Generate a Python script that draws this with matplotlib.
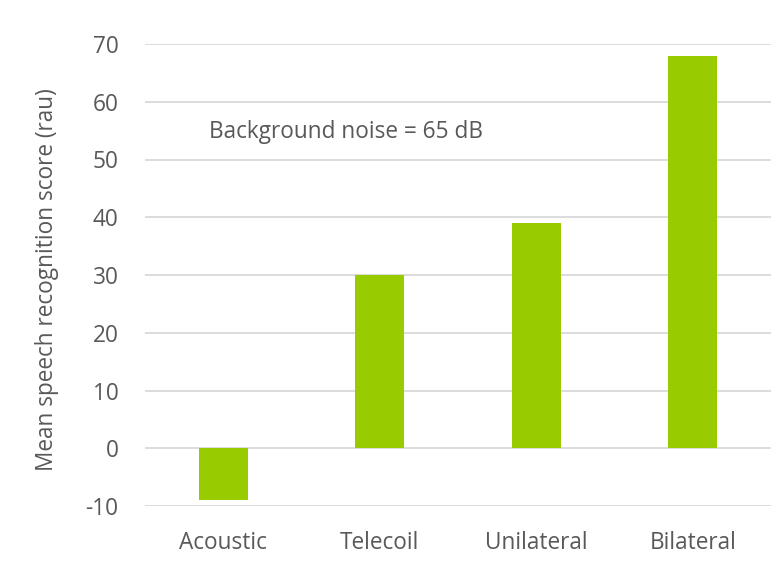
import matplotlib
matplotlib.use("Agg")
import matplotlib.pyplot as plt

categories = ["Acoustic", "Telecoil", "Unilateral", "Bilateral"]
scores = [-9, 30, 39, 68]
yticks = [-10, 0, 10, 20, 30, 40, 50, 60, 70]

plt.rcParams['font.family'] = ['Open Sans', 'DejaVu Sans']
txt = '#595959'
fs = 16.3

fig = plt.figure(figsize=(7.79, 5.63), dpi=100)
ax = fig.add_axes([145/779, 1-506/563, (771-145)/779, (506-44)/563])
x = list(range(len(categories)))
ax.bar(x, scores, width=0.31, color='#99CC00', zorder=3)
ax.set_xlim(-0.5, 3.5)
ax.set_ylim(-10, 70)
ax.set_yticks(yticks)
ax.set_yticklabels([str(t) for t in yticks])
ax.set_xticks(x)
ax.set_xticklabels(categories)
ax.grid(axis='y', color='#D9D9D9', linewidth=1.3, zorder=0)
for s in ax.spines.values():
    s.set_visible(False)
ax.tick_params(axis='both', length=0, colors=txt, labelsize=fs)
ax.tick_params(axis='y', pad=19)
ax.tick_params(axis='x', pad=18)
ax.set_ylabel('Mean speech recognition score (rau)', color=txt, fontsize=fs)
ax.yaxis.set_label_coords(-0.138, 0.49)
ax.text(-0.09, 54.7, 'Background noise = 65 dB', color=txt, fontsize=fs, va='center', ha='left')
fig.savefig('out.png', dpi=100)
